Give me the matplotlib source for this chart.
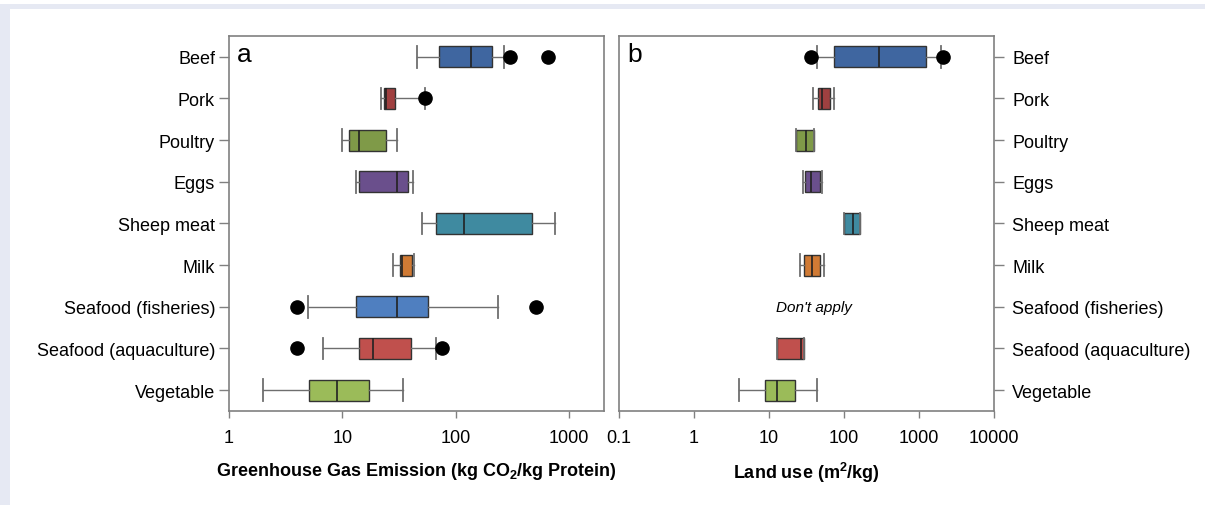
import matplotlib
matplotlib.use("Agg")
import matplotlib.pyplot as plt
from matplotlib.patches import Rectangle

plt.rcParams['font.family'] = ['Liberation Sans', 'DejaVu Sans']

categories = ["Beef", "Pork", "Poultry", "Eggs", "Sheep meat", "Milk",
              "Seafood (fisheries)", "Seafood (aquaculture)", "Vegetable"]
colors = ["#3f66a0", "#a04040", "#7f9a48", "#6a4f8c", "#3f8aa0", "#d07a34",
          "#4f7fc0", "#c0504d", "#9bbb59"]

# Panel a: GHG emission (kg CO2 / kg protein): whislo, q1, med, q3, whishi
ghg_whislo = [45.5, 22.1, 10.0, 13.1, 50.9, 28.0, 5.0, 6.8, 2.0]
ghg_q1     = [71, 23.2, 11.5, 14.1, 67, 32.1, 13.1, 14.1, 5.04]
ghg_med    = [137, 24.2, 14.1, 30.2, 118, 33.4, 30.2, 18.7, 9.06]
ghg_q3     = [208, 29.4, 24.5, 37.8, 470, 41.2, 57.5, 40.4, 17.1]
ghg_whishi = [267, 53.3, 30.2, 42.1, 750, 43.3, 239, 66.7, 34.1]
ghg_fliers = [[299, 651], [53.3], [], [], [], [], [4.0, 514], [4.0, 75.3], []]

# Panel b: land use (m2/kg); None = does not apply
land_whislo = [44, 38.2, 22.9, 28.7, 99, 25.6, None, 12.8, 3.98]
land_q1     = [74.3, 45.5, 22.9, 30.5, 99, 29.6, None, 12.8, 8.93]
land_med    = [296, 51.4, 31.5, 36.6, 132, 37.1, None, 26.4, 12.9]
land_q3     = [1228, 64.4, 39.4, 48.3, 163, 48.3, None, 29.6, 22.0]
land_whishi = [1946, 74.3, 39.4, 51.4, 163, 54.1, None, 29.6, 43.2]
land_fliers = [[36.3, 2070], [], [], [], [], [], [], [], []]

W, H = 1205, 506
fig = plt.figure(figsize=(W / 100, H / 100), dpi=100)

# light frame of the screenshot
fig.patches.append(Rectangle((0, 1 - 10 / H), 1, 5 / H, transform=fig.transFigure,
                             facecolor="#e6e9f3", edgecolor="none", zorder=0))
fig.patches.append(Rectangle((0, 0), 10 / W, 1 - 5 / H, transform=fig.transFigure,
                             facecolor="#e6e9f3", edgecolor="none", zorder=0))

axa = fig.add_axes([229 / W, (H - 412) / H, 375 / W, 375 / H])
axb = fig.add_axes([619 / W, (H - 412) / H, 375 / W, 375 / H])

spine_col = "#808080"
whisk_col = "#6e6e6e"


def draw(ax, wl, q1, med, q3, wh, fl):
    stats, pos, cols = [], [], []
    for i in range(len(categories)):
        if med[i] is None:
            continue
        stats.append(dict(whislo=wl[i], q1=q1[i], med=med[i], q3=q3[i],
                          whishi=wh[i], fliers=fl[i], label=categories[i]))
        pos.append(i)
        cols.append(colors[i])
    res = ax.bxp(stats, positions=pos, widths=0.5, capwidths=0.52,
                 orientation='horizontal', patch_artist=True,
                 boxprops=dict(edgecolor="#333333", linewidth=1.0),
                 medianprops=dict(color="#222222", linewidth=1.2),
                 whiskerprops=dict(color=whisk_col, linewidth=1.0),
                 capprops=dict(color=whisk_col, linewidth=1.3),
                 flierprops=dict(marker='o', markerfacecolor='black',
                                 markeredgecolor='black', markersize=9.5))
    for b, c in zip(res['boxes'], cols):
        b.set_facecolor(c)
    ax.set_xscale('log')
    ax.set_ylim(8.5, -0.5)
    ax.set_yticks(range(len(categories)))
    ax.set_yticklabels(categories)
    for s in ax.spines.values():
        s.set_color(spine_col)
        s.set_linewidth(1.2)
    ax.tick_params(axis='both', colors=spine_col, labelcolor='black',
                   labelsize=13, width=1.0)
    ax.tick_params(axis='y', length=7, pad=3)
    ax.tick_params(axis='x', length=5, pad=8)
    ax.minorticks_off()


draw(axa, ghg_whislo, ghg_q1, ghg_med, ghg_q3, ghg_whishi, ghg_fliers)
axa.set_xlim(1, 2040)
axa.set_xticks([1, 10, 100, 1000])
axa.set_xticklabels(["1", "10", "100", "1000"])
axa.xaxis.set_minor_locator(matplotlib.ticker.NullLocator())
axa.set_xlabel("Greenhouse Gas Emission (kg CO$_\\mathregular{2}$/kg Protein)",
               fontsize=13, fontweight='bold', labelpad=10)
axa.text(0.022, 0.985, "a", transform=axa.transAxes, fontsize=19,
         va='top', ha='left')

draw(axb, land_whislo, land_q1, land_med, land_q3, land_whishi, land_fliers)
axb.set_xlim(0.1, 10000)
axb.set_xticks([0.1, 1, 10, 100, 1000, 10000])
axb.set_xticklabels(["0.1", "1", "10", "100", "1000", "10000"])
axb.xaxis.set_minor_locator(matplotlib.ticker.NullLocator())
axb.yaxis.tick_right()
axb.tick_params(axis='y', pad=6)
axb.set_xlabel("Land use (m$^\\mathregular{2}$/kg)", fontsize=13,
               fontweight='bold', labelpad=10)
axb.text(0.022, 0.985, "b", transform=axb.transAxes, fontsize=19,
         va='top', ha='left')
axb.text(40, 6, "Don't apply", fontsize=11, style='italic',
         ha='center', va='center')

fig.savefig("out.png", dpi=100)
